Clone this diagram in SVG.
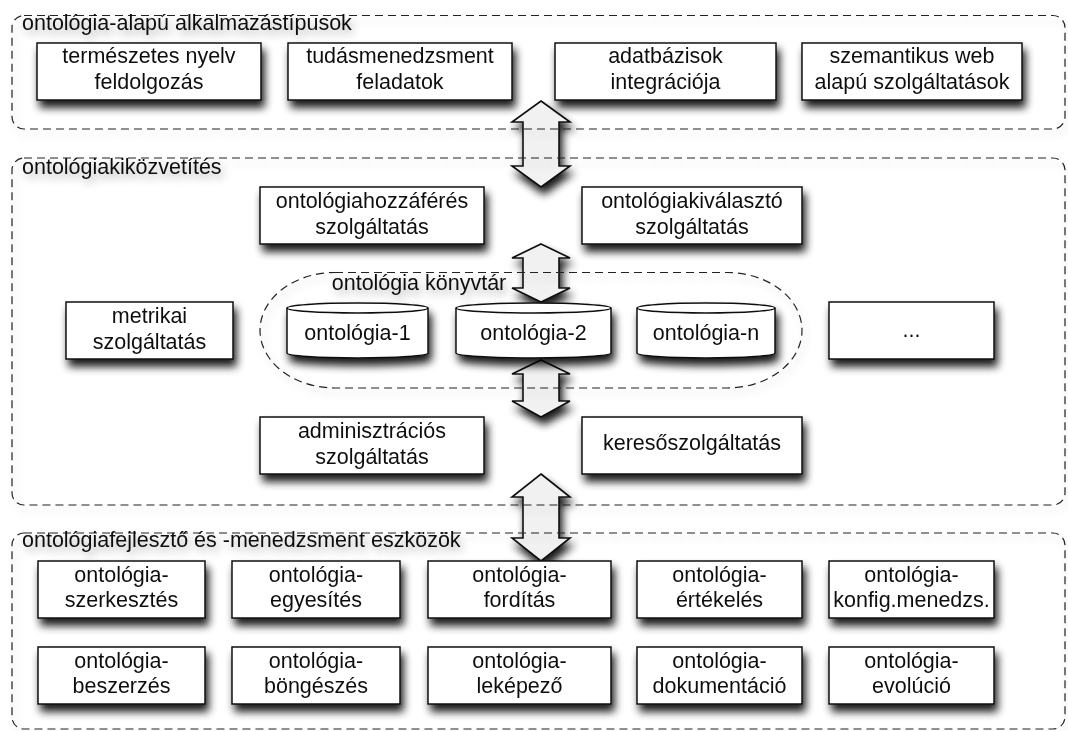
<svg xmlns="http://www.w3.org/2000/svg" width="1068" height="731" viewBox="0 0 1068 731">
<defs>
<filter id="sh" x="-20%" y="-40%" width="150%" height="210%">
<feGaussianBlur in="SourceAlpha" stdDeviation="4.5"/>
<feOffset dx="3" dy="7"/>
<feComponentTransfer><feFuncA type="linear" slope="0.9"/></feComponentTransfer>
<feMerge><feMergeNode/><feMergeNode in="SourceGraphic"/></feMerge>
</filter>
<filter id="shl" x="-10%" y="-40%" width="130%" height="200%">
<feGaussianBlur in="SourceAlpha" stdDeviation="4"/>
<feOffset dx="3" dy="5"/>
<feComponentTransfer><feFuncA type="linear" slope="0.3"/></feComponentTransfer>
<feMerge><feMergeNode/><feMergeNode in="SourceGraphic"/></feMerge>
</filter>
</defs>
<style>
text{font-family:"Liberation Sans",Arial,sans-serif;font-size:21.5px;fill:#111}
.c{text-anchor:middle}
.box{fill:#fff;stroke:#111;stroke-width:1.5}
.cont{fill:none;stroke:#222;stroke-width:1.2;stroke-dasharray:8 5}
.arr{fill:#f1f1f1;stroke:#111;stroke-width:1.6;stroke-linejoin:miter}
.cyl{fill:#fff;stroke:#111;stroke-width:1.5}
</style>
<rect width="1068" height="731" fill="#fff"/>

<g id="connectors" filter="url(#sh)">
<polygon class="arr" points="541,101 570,122 559,122 559,166 570,166 541,187 512,166 523,166 523,122 512,122"/>
<polygon class="arr" points="541,244 570,258 559,258 559,288 570,288 541,302 512,288 523,288 523,258 512,258"/>
<polygon class="arr" points="541,360 570,374 559,374 559,401 570,401 541,417 512,401 523,401 523,374 512,374"/>
<polygon class="arr" points="541,474 570,497 559,497 559,538 570,538 541,561 512,538 523,538 523,497 512,497"/>
</g>

<g id="container-apps">
<rect class="cont" filter="url(#shl)" x="12" y="15.5" width="1053" height="113.5" rx="12"/>
<text x="22" y="30" filter="url(#shl)">ontológia-alapú alkalmazástípusok</text>
</g>
<g id="container-mediation">
<rect class="cont" filter="url(#shl)" x="12" y="158" width="1053" height="347" rx="12"/>
<text x="22" y="174" filter="url(#shl)">ontológiakiközvetítés</text>
</g>
<g id="container-tools">
<rect class="cont" filter="url(#shl)" x="12" y="533" width="1053" height="196" rx="12"/>
<text x="22" y="547" filter="url(#shl)">ontológiafejlesztő és -menedzsment eszközök</text>
</g>
<g id="container-library">
<rect class="cont" filter="url(#shl)" x="260" y="272.5" width="542" height="115.5" rx="75" ry="58"/>
<text class="c" x="419" y="290" filter="url(#shl)">ontológia könyvtár</text>
</g>

<g id="n-termeszetes" filter="url(#sh)"><rect class="box" x="37" y="43" width="224" height="57"/><text class="c" x="149" y="63">természetes nyelv</text><text class="c" x="149" y="89">feldolgozás</text></g>
<g id="n-tudas" filter="url(#sh)"><rect class="box" x="288" y="43" width="224" height="57"/><text class="c" x="400" y="63">tudásmenedzsment</text><text class="c" x="400" y="89">feladatok</text></g>
<g id="n-adatbazis" filter="url(#sh)"><rect class="box" x="555" y="43" width="221" height="57"/><text class="c" x="665.5" y="63">adatbázisok</text><text class="c" x="665.5" y="89">integrációja</text></g>
<g id="n-szemantikus" filter="url(#sh)"><rect class="box" x="802" y="43" width="220" height="57"/><text class="c" x="912" y="63">szemantikus web</text><text class="c" x="912" y="89">alapú szolgáltatások</text></g>

<g id="n-hozzaferes" filter="url(#sh)"><rect class="box" x="260" y="187" width="224" height="57"/><text class="c" x="372" y="208">ontológiahozzáférés</text><text class="c" x="372" y="234">szolgáltatás</text></g>
<g id="n-kivalaszto" filter="url(#sh)"><rect class="box" x="582" y="187" width="220" height="57"/><text class="c" x="692" y="208">ontológiakiválasztó</text><text class="c" x="692" y="234">szolgáltatás</text></g>
<g id="n-metrikai" filter="url(#sh)"><rect class="box" x="66" y="302" width="167" height="57"/><text class="c" x="149.5" y="323">metrikai</text><text class="c" x="149.5" y="349">szolgáltatás</text></g>
<g id="n-dots" filter="url(#sh)"><rect class="box" x="829" y="302" width="165" height="57"/><text class="c" x="911.5" y="337">...</text></g>
<g id="n-admin" filter="url(#sh)"><rect class="box" x="260" y="417" width="224" height="57"/><text class="c" x="372" y="438">adminisztrációs</text><text class="c" x="372" y="464">szolgáltatás</text></g>
<g id="n-kereso" filter="url(#sh)"><rect class="box" x="582" y="417" width="220" height="57"/><text class="c" x="692" y="450">keresőszolgáltatás</text></g>

<g id="n-ont1" filter="url(#sh)"><path class="cyl" d="M287,308 A70.5,5 0 0 1 428,308 V353 A70.5,5 0 0 1 287,353 Z"/><path class="cyl" fill="none" d="M287,308 A70.5,5 0 0 0 428,308"/><text class="c" x="357.5" y="340">ontológia-1</text></g>
<g id="n-ont2" filter="url(#sh)"><path class="cyl" d="M456,308 A77.5,5 0 0 1 611,308 V353 A77.5,5 0 0 1 456,353 Z"/><path class="cyl" fill="none" d="M456,308 A77.5,5 0 0 0 611,308"/><text class="c" x="533.5" y="340">ontológia-2</text></g>
<g id="n-ontn" filter="url(#sh)"><path class="cyl" d="M637,308 A69,5 0 0 1 775,308 V353 A69,5 0 0 1 637,353 Z"/><path class="cyl" fill="none" d="M637,308 A69,5 0 0 0 775,308"/><text class="c" x="706" y="340">ontológia-n</text></g>

<g id="n-szerkesztes" filter="url(#sh)"><rect class="box" x="38" y="561" width="167" height="57"/><text class="c" x="121.5" y="582">ontológia-</text><text class="c" x="121.5" y="607">szerkesztés</text></g>
<g id="n-egyesites" filter="url(#sh)"><rect class="box" x="232" y="561" width="168" height="57"/><text class="c" x="316" y="582">ontológia-</text><text class="c" x="316" y="607">egyesítés</text></g>
<g id="n-forditas" filter="url(#sh)"><rect class="box" x="428" y="561" width="183" height="57"/><text class="c" x="519.5" y="582">ontológia-</text><text class="c" x="519.5" y="607">fordítás</text></g>
<g id="n-ertekeles" filter="url(#sh)"><rect class="box" x="637" y="561" width="165" height="57"/><text class="c" x="719.5" y="582">ontológia-</text><text class="c" x="719.5" y="607">értékelés</text></g>
<g id="n-konfig" filter="url(#sh)"><rect class="box" x="829" y="561" width="165" height="57"/><text class="c" x="911.5" y="582">ontológia-</text><text class="c" x="911.5" y="607">konfig.menedzs.</text></g>

<g id="n-beszerzes" filter="url(#sh)"><rect class="box" x="38" y="647" width="167" height="57"/><text class="c" x="121.5" y="668">ontológia-</text><text class="c" x="121.5" y="693">beszerzés</text></g>
<g id="n-bongeszes" filter="url(#sh)"><rect class="box" x="232" y="647" width="168" height="57"/><text class="c" x="316" y="668">ontológia-</text><text class="c" x="316" y="693">böngészés</text></g>
<g id="n-lekepezo" filter="url(#sh)"><rect class="box" x="428" y="647" width="183" height="57"/><text class="c" x="519.5" y="668">ontológia-</text><text class="c" x="519.5" y="693">leképező</text></g>
<g id="n-dokumentacio" filter="url(#sh)"><rect class="box" x="637" y="647" width="165" height="57"/><text class="c" x="719.5" y="668">ontológia-</text><text class="c" x="719.5" y="693">dokumentáció</text></g>
<g id="n-evolucio" filter="url(#sh)"><rect class="box" x="829" y="647" width="165" height="57"/><text class="c" x="911.5" y="668">ontológia-</text><text class="c" x="911.5" y="693">evolúció</text></g>
</svg>
